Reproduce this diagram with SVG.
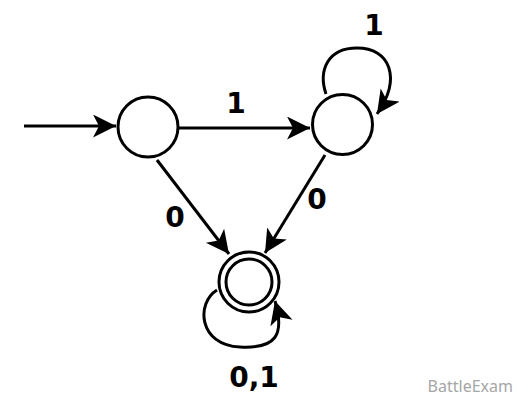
<svg xmlns="http://www.w3.org/2000/svg" width="529" height="404" viewBox="0 0 529 404">
<style>
.st{fill:none;stroke:#000;stroke-width:3}
.ed{fill:none;stroke:#000;stroke-width:3;marker-end:url(#ah)}
.lb{font-family:"DejaVu Sans",sans-serif;font-weight:bold;font-size:28px;fill:#000}
.wm{font-family:"Noto Sans",sans-serif;font-size:16px;fill:#a6a6a6}
</style>
<defs>
<marker id="ah" markerUnits="userSpaceOnUse" markerWidth="26" markerHeight="26" refX="23" refY="11.5" orient="auto">
<path d="M0,0 L23,11.5 L0,23 L6,11.5 Z" fill="#000"/>
</marker>
</defs>
<rect width="529" height="404" fill="#fff"/>
<g id="q0"><circle class="st" cx="148" cy="127" r="30"/></g>
<g id="q1"><circle class="st" cx="342.5" cy="124.5" r="30"/></g>
<g id="q2"><circle class="st" cx="249" cy="282" r="30"/><circle class="st" cx="249" cy="282" r="23"/></g>
<g id="edges">
<path class="ed" d="M24,126 L116,126"/>
<path class="ed" d="M179,128 L310,128"/>
<path class="ed" d="M157,160 L229,254"/>
<path class="ed" d="M325,155 L265,253"/>
<path class="ed" d="M326,94 C318,70 328,48 357,48 C390,48 402,78 377,114"/>
<path class="ed" d="M217,290 C196,303 198,345 240,347 C276,349 285,335 275,301"/>
</g>
<g id="labels">
<text class="lb" x="236" y="113" text-anchor="middle">1</text>
<text class="lb" x="374" y="35" text-anchor="middle">1</text>
<text class="lb" x="175" y="227" text-anchor="middle">0</text>
<text class="lb" x="317" y="209" text-anchor="middle">0</text>
<text class="lb" x="254" y="387" text-anchor="middle">0,1</text>
</g>
<text class="wm" x="513" y="392" text-anchor="end">BattleExam</text>
</svg>
